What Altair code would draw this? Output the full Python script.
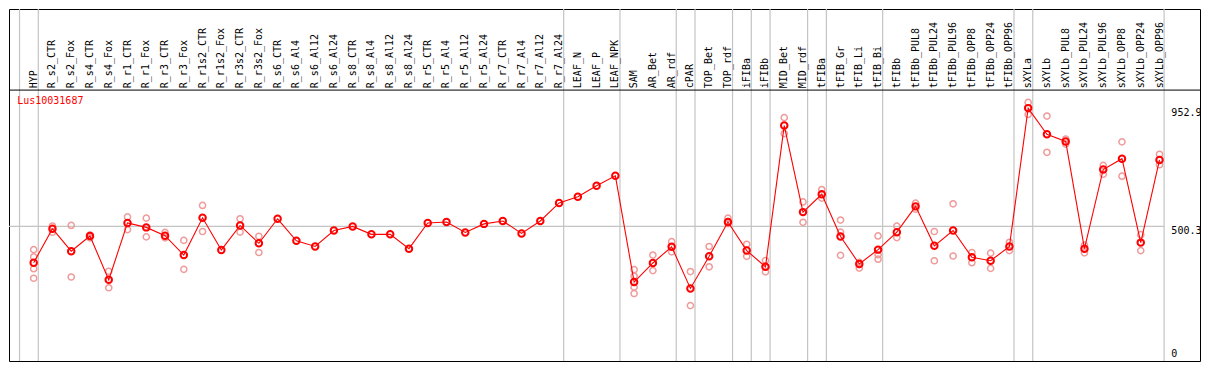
import altair as alt
import pandas as pd

gene = "Lus10031687"

categories = [
    "HYP", "R_s2_CTR", "R_s2_Fox", "R_s4_CTR", "R_s4_Fox", "R_r1_CTR", "R_r1_Fox",
    "R_r3_CTR", "R_r3_Fox", "R_r1s2_CTR", "R_r1s2_Fox", "R_r3s2_CTR", "R_r3s2_Fox",
    "R_s6_CTR", "R_s6_Al4", "R_s6_Al12", "R_s6_Al24", "R_s8_CTR", "R_s8_Al4",
    "R_s8_Al12", "R_s8_Al24", "R_r5_CTR", "R_r5_Al4", "R_r5_Al12", "R_r5_Al24",
    "R_r7_CTR", "R_r7_Al4", "R_r7_Al12", "R_r7_Al24", "LEAF_N", "LEAF_P", "LEAF_NPK",
    "SAM", "AR_Bet", "AR_rdf", "cPAR", "TOP_Bet", "TOP_rdf", "iFIBa", "iFIBb",
    "MID_Bet", "MID_rdf", "tFIBa", "tFIB_Gr", "tFIB_Li", "tFIB_Bi", "tFIBb",
    "tFIBb_PUL8", "tFIBb_PUL24", "tFIBb_PUL96", "tFIBb_OPP8", "tFIBb_OPP24",
    "tFIBb_OPP96", "sXYLa", "sXYLb", "sXYLb_PUL8", "sXYLb_PUL24", "sXYLb_PUL96",
    "sXYLb_OPP8", "sXYLb_OPP24", "sXYLb_OPP96",
]

means = [
    361.6, 491.8, 405.4, 463.8, 295.9, 513.7, 496.6, 465.0, 390.8, 533.1,
    410.3, 504.0, 435.8, 529.5, 445.5, 423.6, 484.5, 500.3, 469.9, 469.9,
    415.1, 513.7, 517.3, 477.2, 510.0, 521.0, 473.5, 521.0, 590.3, 613.5,
    656.0, 693.8, 287.4, 360.4, 422.4, 263.1, 386.0, 517.3, 407.8, 345.8,
    886.0, 555.0, 623.2, 461.4, 356.7, 411.5, 478.4, 577.0, 426.0, 484.5,
    382.3, 368.9, 423.6, 952.9, 853.1, 825.2, 415.1, 718.1, 759.5, 438.3,
    754.6,
]

replicates = [
    [411.5, 383.5, 338.5, 302.0], [502.0, 478.0], [504.0, 306.8], [467.5, 456.5],
    [328.7, 265.5], [536.8, 488.1], [531.9, 460.2], [477.2, 456.5], [446.8, 336.1],
    [580.6, 480.8], [], [529.5, 478.4], [462.6, 400.5],
    [], [], [], [], [], [], [], [], [], [], [], [], [], [], [], [], [], [], [],
    [334.8, 310.5, 267.9, 243.6], [390.8, 331.2], [441.9, 422.4, 403.0],
    [327.5, 197.3], [423.6, 345.8], [532.0, 511.0], [432.2, 386.0],
    [370.0, 345.8, 326.3], [916.4, 855.6], [594.0, 516.0], [641.4, 608.6],
    [524.6, 478.4, 389.6], [362.8, 340.9], [463.8, 392.0, 375.0], [501.5, 457.7],
    [589.1, 566.0], [480.8, 368.9], [586.7, 387.2], [400.5, 361.6], [398.1, 339.7],
    [439.5, 407.8], [974.8, 928.6], [922.5, 783.8], [834.9, 815.4], [428.5, 399.3],
    [733.9, 699.8], [823.9, 692.5], [468.7, 407.8], [776.5, 736.3],
]

group_ends = [0, 1, 29, 32, 35, 36, 38, 39, 40, 42, 43, 46, 53, 54, 61]
y_ticks = [0, 500.3, 952.9]
grid_values = [500.3]

# ---- layout ----
W, H = 1191, 352
REF_W, REF_H = 1206, 369
sx, sy = W / REF_W, H / REF_H
FONT = "DejaVu Sans Mono"

x_dom = [-6 / 19, 1200 / 19]
y_dom = [-4 / 0.274, 365 / 0.274]
xs = alt.Scale(domain=x_dom, nice=False, zero=False)
ys = alt.Scale(domain=y_dom, nice=False, zero=False)
GAP = 0.245

idx = list(range(1, len(categories) + 1))
mean_df = pd.DataFrame({"idx": idx, "cat": categories, "mean": means})
rep_df = pd.DataFrame(
    [{"idx": i + 1, "val": v} for i, reps in enumerate(replicates) for v in reps]
)
bound_df = pd.DataFrame({"end": group_ends})
tick_df = pd.DataFrame({"tick": y_ticks, "label": [str(t) for t in y_ticks]})
grid_df = pd.DataFrame({"g": grid_values})
one_df = pd.DataFrame({"t": [gene]})

X = lambda f: alt.X(f, scale=xs, axis=None)
Y = lambda f: alt.Y(f, scale=ys, axis=None)

vrules = alt.Chart(bound_df).transform_calculate(
    pos=f"datum.end + {GAP}"
).mark_rule(color="#C4C4C4", strokeWidth=1.2).encode(
    x=X("pos:Q"), y=alt.value(0), y2=alt.value(H)
)

hgrid = alt.Chart(grid_df).transform_calculate(
    x0=f"{x_dom[0]}", x1=f"{group_ends[-1] + GAP}"
).mark_rule(color="#C4C4C4", strokeWidth=1.2).encode(
    x=X("x0:Q"), x2="x1:Q", y=Y("g:Q")
)

header = alt.Chart(one_df).mark_rule(color="black", strokeWidth=1).encode(
    x=alt.value(0), x2=alt.value(W), y=alt.value(85 * sy)
)

labels = alt.Chart(mean_df).mark_text(
    angle=270, align="left", baseline="middle", font=FONT, fontSize=10, color="black"
).encode(x=X("idx:Q"), y=alt.value(83 * sy), text="cat:N")

title = alt.Chart(one_df).mark_text(
    align="left", baseline="middle", font=FONT, fontSize=10, color="#FF0000"
).encode(x=alt.value(8.3 * sx), y=alt.value(96.7 * sy), text="t:N")

ylab = alt.Chart(tick_df).transform_filter("datum.tick > 0").mark_text(
    align="left", baseline="top", font=FONT, fontSize=10, color="black"
).encode(x=alt.value(1177 * sx), y=Y("tick:Q"), text="label:N")

ylab0 = alt.Chart(tick_df).transform_filter("datum.tick == 0").mark_text(
    align="left", baseline="alphabetic", font=FONT, fontSize=10, color="black"
).encode(x=alt.value(1177 * sx), y=Y("tick:Q"), text="label:N")

reps = alt.Chart(rep_df).mark_point(
    shape="circle", filled=False, color="#F09A9A", strokeWidth=1.5, size=38, opacity=1
).encode(x=X("idx:Q"), y=Y("val:Q"))

line = alt.Chart(mean_df).mark_line(color="#FF0000", strokeWidth=1.1).encode(
    x=X("idx:Q"), y=Y("mean:Q"), order="idx:Q"
)

pts = alt.Chart(mean_df).mark_point(
    shape="circle", filled=False, color="#FF0000", strokeWidth=2, size=42, opacity=1
).encode(x=X("idx:Q"), y=Y("mean:Q"))

chart = alt.layer(
    vrules, hgrid, header, labels, title, ylab, ylab0, reps, line, pts
).properties(
    width=W, height=H,
    padding={"left": 1, "top": 1, "right": 1, "bottom": 1},
    autosize=alt.AutoSizeParams(type="none"),
    background="white",
).configure_view(stroke="black", strokeWidth=1)

chart.save("out.html", embed_options={"renderer": "svg", "actions": False})
